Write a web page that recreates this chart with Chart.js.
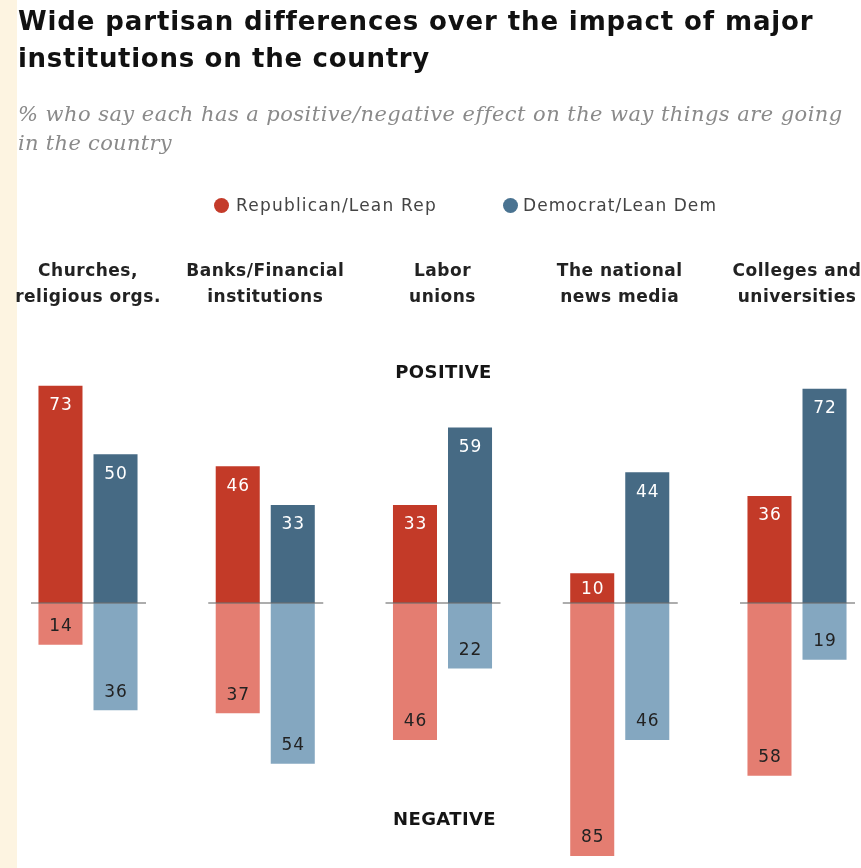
<!DOCTYPE html>
<html>
<head>
<meta charset="utf-8">
<script src="https://cdn.jsdelivr.net/npm/chart.js@4/dist/chart.umd.min.js"></script>
<style>
  html, body { margin: 0; padding: 0; background: #ffffff; }
  body { width: 861px; height: 868px; position: relative; overflow: hidden; }
  #strip { position: absolute; left: 0; top: 0; width: 17px; height: 868px; background: #FDF4E1; }
  #chart { position: absolute; left: 0; top: 0; }
  .t { position: absolute; white-space: nowrap; line-height: 1; }
  .title { font-family: "DejaVu Sans", sans-serif; font-weight: bold; font-size: 26px; color: #111; }
  .sub { font-family: "DejaVu Serif", serif; font-style: italic; font-size: 21px; color: #8a8a8a; }
  .leg { font-family: "DejaVu Sans", sans-serif; font-size: 17px; color: #444; }
  .dot { position: absolute; width: 15px; height: 15px; border-radius: 50%; }
</style>
</head>
<body>
<div id="strip"></div>
<canvas id="chart" width="861" height="868"></canvas>
<span class="t title" id="t1" data-w="794" style="left:18px; top:8px;">Wide partisan differences over the impact of major</span>
<span class="t title" id="t2" data-w="412" style="left:18px; top:45px;">institutions on the country</span>
<span class="t sub" id="s1" data-w="824" style="left:18px; top:104px;">% who say each has a positive/negative effect on the way things are going</span>
<span class="t sub" id="s2" data-w="154" style="left:18px; top:133px;">in the country</span>
<div class="dot" style="left:214px; top:198px; background:#C43B2A;"></div>
<span class="t leg" id="l1" data-w="201" style="left:236px; top:197px;">Republican/Lean Rep</span>
<div class="dot" style="left:503px; top:198px; background:#4A7391;"></div>
<span class="t leg" id="l2" data-w="194" style="left:523px; top:197px;">Democrat/Lean Dem</span>
<script>
// ---- data ----
const categories = [
  ["Churches,", "religious orgs."],
  ["Banks/Financial", "institutions"],
  ["Labor", "unions"],
  ["The national", "news media"],
  ["Colleges and", "universities"]
];
const seriesNames = ["Republican/Lean Rep", "Democrat/Lean Dem"];
const repPositive = [73, 46, 33, 10, 36];
const repNegative = [14, 37, 46, 85, 58];
const demPositive = [50, 33, 59, 44, 72];
const demNegative = [36, 54, 22, 46, 19];
const sideLabels = ["POSITIVE", "NEGATIVE"];

// ---- fit HTML text widths ----
document.querySelectorAll('.t[data-w]').forEach(el => {
  el.style.letterSpacing = '0px';
  const w = el.getBoundingClientRect().width;
  const n = el.textContent.length;
  el.style.letterSpacing = ((+el.dataset.w - w) / n).toFixed(3) + 'px';
});

const COLORS = {
  repPos: '#C33A28', repNeg: '#E47D71',
  demPos: '#466A84', demNeg: '#84A7C0'
};

const annotate = {
  id: 'annotate',
  beforeDraw(chart) {
    chart.ctx.letterSpacing = '0.5px';
  },
  afterDatasetsDraw(chart) {
    const ctx = chart.ctx;
    const x = chart.scales.x, y = chart.scales.y;
    const y0 = y.getPixelForValue(0);
    ctx.save();
    // baseline segments
    ctx.strokeStyle = 'rgba(110,110,110,0.75)';
    ctx.lineWidth = 1.5;
    categories.forEach((c, i) => {
      const cx = x.getPixelForValue(i);
      ctx.beginPath();
      ctx.moveTo(cx - 57, y0);
      ctx.lineTo(cx + 58, y0);
      ctx.stroke();
    });
    // value labels
    ctx.font = '17px "DejaVu Sans"';
    ctx.letterSpacing = '1px';
    ctx.textAlign = 'center';
    ctx.textBaseline = 'middle';
    chart.data.datasets.forEach((ds, di) => {
      const meta = chart.getDatasetMeta(di);
      meta.data.forEach((bar, i) => {
        const v = ds.data[i];
        const h = Math.abs(bar.base - bar.y);
        const off = Math.min(19, h / 2);
        const ty = v >= 0 ? bar.y + off : bar.y - off;
        ctx.fillStyle = v >= 0 ? '#ffffff' : '#222222';
        ctx.fillText(String(Math.abs(v)), bar.x + 0.5, ty + 1);
      });
    });
    // POSITIVE / NEGATIVE
    ctx.font = 'bold 18px "DejaVu Sans"';
    ctx.letterSpacing = '0.4px';
    ctx.fillStyle = '#151515';
    ctx.textBaseline = 'alphabetic';
    const mid = x.getPixelForValue(2);
    ctx.fillText(sideLabels[0], mid + 1, chart.chartArea.top + 13);
    ctx.fillText(sideLabels[1], mid + 2, chart.chartArea.bottom - 40);
    ctx.restore();
  },
  afterDraw(chart) {
    chart.ctx.letterSpacing = '0px';
  }
};

new Chart(document.getElementById('chart'), {
  type: 'bar',
  data: {
    labels: categories,
    datasets: [
      { label: seriesNames[0] + ' positive', data: repPositive, backgroundColor: COLORS.repPos, stack: 'rep' },
      { label: seriesNames[0] + ' negative', data: repNegative.map(v => -v), backgroundColor: COLORS.repNeg, stack: 'rep' },
      { label: seriesNames[1] + ' positive', data: demPositive, backgroundColor: COLORS.demPos, stack: 'dem' },
      { label: seriesNames[1] + ' negative', data: demNegative.map(v => -v), backgroundColor: COLORS.demNeg, stack: 'dem' }
    ]
  },
  options: {
    responsive: false,
    animation: false,
    devicePixelRatio: 1,
    datasets: { bar: { categoryPercentage: 0.621, barPercentage: 0.8, borderWidth: 0, clip: false } },
    layout: { padding: { left: 88, right: 64, top: 255, bottom: 3 } },
    plugins: { legend: { display: false }, tooltip: { enabled: false } },
    scales: {
      x: {
        type: 'category',
        position: 'top',
        offset: false,
        grid: { display: false, drawTicks: false },
        border: { display: false },
        ticks: {
          autoSkip: false, maxRotation: 0, minRotation: 0, padding: 54,
          color: '#222',
          font: { family: 'DejaVu Sans', size: 17, weight: 'bold', lineHeight: 26 / 17 }
        },
        afterFit(axis) { axis.height = 110; axis.paddingLeft = 0; axis.paddingRight = 0; }
      },
      y: { display: false, stacked: true, min: -88, max: 80 }
    }
  },
  plugins: [annotate]
});
</script>
</body>
</html>
